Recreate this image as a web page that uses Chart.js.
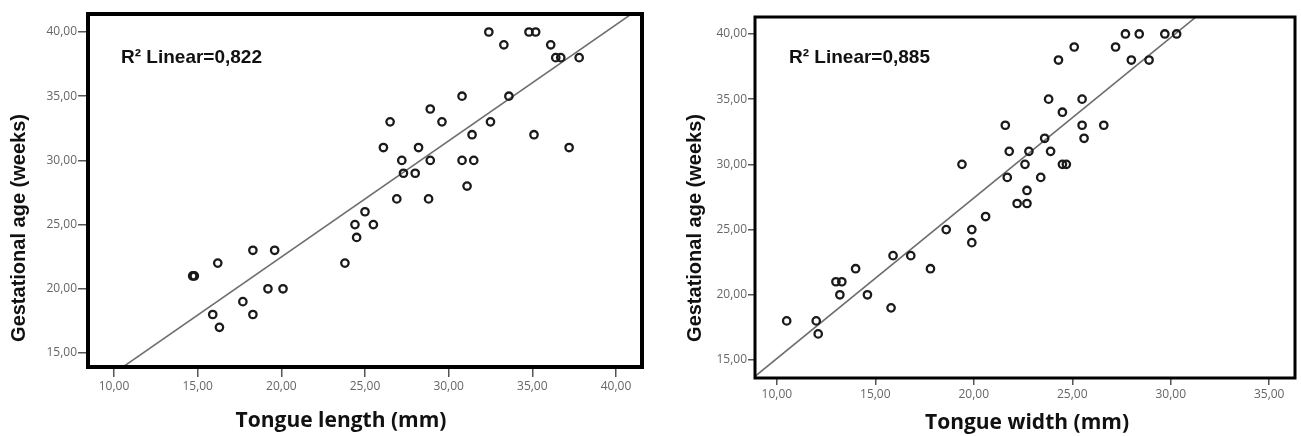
<!DOCTYPE html>
<html>
<head>
<meta charset="utf-8">
<title>Gestational age vs tongue size</title>
<script src="https://cdn.jsdelivr.net/npm/chart.js@4.4.1/dist/chart.umd.min.js"></script>
<style>
    html, body { margin: 0; padding: 0; background: #fff; }
    #wrap { position: relative; width: 1301px; height: 436px; overflow: hidden; }
    #chartLength { position: absolute; left: 0; top: 0; }
    #chartWidth { position: absolute; left: 650px; top: 0; }
</style>
</head>
<body>
<div id="wrap">
    <canvas id="chartLength" width="650" height="436"></canvas>
    <canvas id="chartWidth" width="651" height="436"></canvas>
</div>
<script>
// --- dados ---
const lengthX = [14.7, 14.8, 16.2, 18.3, 19.6, 19.2, 20.1, 17.7, 15.9, 18.3, 16.3,
    23.8, 24.5, 24.4, 25.5, 25.0, 26.9, 28.8, 31.1, 27.3, 28.0, 27.2, 28.9, 30.8, 31.5,
    26.1, 28.2, 37.2, 31.4, 35.1, 26.5, 29.6, 32.5, 28.9, 30.8, 33.6, 36.4, 36.7, 37.8,
    33.3, 36.1, 32.4, 34.8, 35.2];
const lengthAge = [21, 21, 22, 23, 23, 20, 20, 19, 18, 18, 17,
    22, 24, 25, 25, 26, 27, 27, 28, 29, 29, 30, 30, 30, 30,
    31, 31, 31, 32, 32, 33, 33, 33, 34, 35, 35, 38, 38, 38,
    39, 39, 40, 40, 40];

const widthX = [19.4, 27.7, 28.4, 29.7, 30.3, 25.1, 27.2, 24.3, 28.0, 28.9,
    23.8, 25.5, 24.5, 21.6, 25.5, 26.6, 25.6, 23.6, 21.8, 22.8, 23.9,
    22.6, 24.5, 24.7, 21.7, 23.4, 22.7, 22.2, 22.7, 20.6,
    18.6, 19.9, 19.9, 15.9, 16.8, 17.8, 14.0, 13.0, 13.3, 13.2, 14.6,
    15.8, 10.5, 12.0, 12.1];
const widthAge = [30, 40, 40, 40, 40, 39, 39, 38, 38, 38,
    35, 35, 34, 33, 33, 33, 32, 32, 31, 31, 31,
    30, 30, 30, 29, 29, 28, 27, 27, 26,
    25, 25, 24, 23, 23, 22, 22, 21, 21, 20, 20,
    19, 18, 18, 17];

const xTicksLength = [10, 15, 20, 25, 30, 35, 40];
const xTicksWidth = [10, 15, 20, 25, 30, 35];
const yTicks = [15, 20, 25, 30, 35, 40];

document.addEventListener('DOMContentLoaded', function() {
    'use strict';

    const fmt = v => v.toFixed(2).replace('.', ',');

    // reta de minimos quadrados (como o SPSS)
    const fit = (xs, ys, x0, x1) => {
        const n = xs.length;
        const mx = xs.reduce((a, b) => a + b, 0) / n;
        const my = ys.reduce((a, b) => a + b, 0) / n;
        let sxy = 0, sxx = 0;
        xs.forEach((x, i) => { sxy += (x - mx) * (ys[i] - my); sxx += (x - mx) * (x - mx); });
        const b = sxy / sxx, a = my - b * mx;
        return [{ x: x0, y: a + b * x0 }, { x: x1, y: a + b * x1 }];
    };

    // moldura + textos
    const decor = {
        id: 'decor',
        afterDraw(chart) {
            const o = chart.options.plugins.decor;
            const { ctx, chartArea: ca } = chart;
            ctx.save();
            ctx.strokeStyle = '#000';
            ctx.lineWidth = o.frame;
            ctx.strokeRect(ca.left, ca.top, ca.right - ca.left, ca.bottom - ca.top);

            ctx.fillStyle = '#111';
            ctx.textBaseline = 'middle';
            ctx.textAlign = 'left';
            ctx.font = 'bold 19px "Liberation Sans", Arial, sans-serif';
            ctx.fillText(o.note, o.noteX, o.noteY);

            ctx.textAlign = 'center';
            ctx.font = 'bold 21px "Open Sans", sans-serif';
            ctx.fillText(o.xTitle, o.xTitleX, o.xTitleY);

            ctx.translate(o.yTitleX, o.yTitleY);
            ctx.rotate(-Math.PI / 2);
            ctx.font = 'bold 20px "Liberation Sans", Arial, sans-serif';
            ctx.fillText(o.yTitle, 0, 0);
            ctx.restore();
        }
    };

    const build = (el, p) => new Chart(el.getContext('2d'), {
        type: 'scatter',
        data: {
            datasets: [{
                data: p.xs.map((x, i) => ({ x: x, y: p.ys[i] })),
                pointRadius: 3.7,
                pointHoverRadius: 3.7,
                pointBorderWidth: 2.3,
                pointBorderColor: '#1a1a1a',
                pointBackgroundColor: 'rgba(0,0,0,0)',
                order: 1
            }, {
                data: fit(p.xs, p.ys, p.xMin, p.xMax),
                showLine: true,
                borderColor: '#6e6e6e',
                borderWidth: 1.6,
                pointRadius: 0,
                order: 2
            }]
        },
        options: {
            responsive: false,
            animation: false,
            layout: { padding: { left: 0, top: p.top, right: p.right, bottom: 0 } },
            plugins: {
                legend: { display: false },
                tooltip: { enabled: false },
                decor: p.decor
            },
            scales: {
                x: {
                    type: 'linear',
                    min: p.xMin,
                    max: p.xMax,
                    afterBuildTicks: s => { s.ticks = p.xTicks.map(v => ({ value: v })); },
                    afterFit: s => { s.height = p.xAxisH; },
                    border: { display: false },
                    grid: { drawOnChartArea: false, drawTicks: true, tickLength: p.tick, color: '#555', lineWidth: 1.5 },
                    ticks: { callback: fmt, color: '#666', padding: 2, maxRotation: 0,
                        font: { family: '"Open Sans", sans-serif', size: 12 } }
                },
                y: {
                    type: 'linear',
                    min: p.yMin,
                    max: p.yMax,
                    afterBuildTicks: s => { s.ticks = yTicks.map(v => ({ value: v })); },
                    afterFit: s => { s.width = p.yAxisW; },
                    border: { display: false },
                    grid: { drawOnChartArea: false, drawTicks: true, tickLength: p.tick, color: '#555', lineWidth: 1.5 },
                    ticks: { callback: fmt, color: '#666', padding: 1,
                        font: { family: '"Open Sans", sans-serif', size: 12 } }
                }
            }
        },
        plugins: [decor]
    });

    // --- 1. COMPRIMENTO DA LINGUA ---
    build(document.getElementById('chartLength'), {
        xs: lengthX, ys: lengthAge, xTicks: xTicksLength,
        xMin: 8.445, xMax: 41.555, yMin: 13.91, yMax: 41.40,
        top: 14, right: 8, yAxisW: 88, xAxisH: 69, tick: 10,
        decor: {
            frame: 4,
            note: 'R² Linear=0,822', noteX: 121, noteY: 58,
            xTitle: 'Tongue length (mm)', xTitleX: 341, xTitleY: 421,
            yTitle: 'Gestational age (weeks)', yTitleX: 19, yTitleY: 228
        }
    });

    // --- 2. LARGURA DA LINGUA ---
    build(document.getElementById('chartWidth'), {
        xs: widthX, ys: widthAge, xTicks: xTicksWidth,
        xMin: 8.891, xMax: 36.31, yMin: 13.62, yMax: 41.30,
        top: 17, right: 2, yAxisW: 105, xAxisH: 58, tick: 7,
        decor: {
            frame: 3,
            note: 'R² Linear=0,885', noteX: 139, noteY: 58,
            xTitle: 'Tongue width (mm)', xTitleX: 377, xTitleY: 423,
            yTitle: 'Gestational age (weeks)', yTitleX: 45, yTitleY: 228
        }
    });
});
</script>
</body>
</html>
